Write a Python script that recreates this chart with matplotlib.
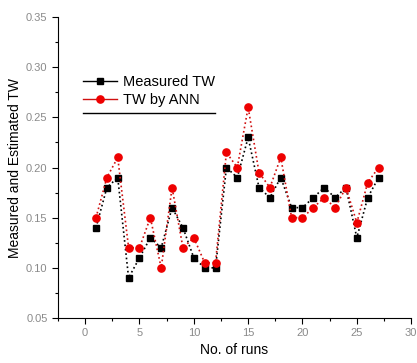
import numpy as np
import matplotlib.pyplot as plt
from matplotlib.lines import Line2D
from matplotlib.ticker import MultipleLocator

plt.rcParams['font.family'] = ['Liberation Sans', 'DejaVu Sans']

runs = list(range(1, 28))
measured_tw = [0.14, 0.18, 0.19, 0.09, 0.11, 0.13, 0.12, 0.16, 0.14, 0.11,
               0.10, 0.10, 0.20, 0.19, 0.23, 0.18, 0.17, 0.19, 0.16, 0.16,
               0.17, 0.18, 0.17, 0.18, 0.13, 0.17, 0.19]
ann_tw = [0.15, 0.19, 0.21, 0.12, 0.12, 0.15, 0.10, 0.18, 0.12, 0.13,
          0.105, 0.105, 0.215, 0.20, 0.26, 0.195, 0.18, 0.21, 0.15, 0.15,
          0.16, 0.17, 0.16, 0.18, 0.145, 0.185, 0.20]

fig = plt.figure(figsize=(4.17, 3.63), dpi=100)
ax = fig.add_axes([0.139, 0.124, 0.847, 0.829])

ax.plot(runs, measured_tw, color='black', ls=':', lw=1.2,
        marker='s', ms=4.5, mfc='black', mec='black')
ax.plot(runs, ann_tw, color='#d01010', ls=':', lw=1.2,
        marker='o', ms=5.2, mfc='#ee0000', mec='#ee0000')

ax.set_xlim(-2.5, 30)
ax.set_ylim(0.05, 0.35)
ax.xaxis.set_major_locator(MultipleLocator(5))
ax.xaxis.set_minor_locator(MultipleLocator(2.5))
ax.yaxis.set_major_locator(MultipleLocator(0.05))
ax.yaxis.set_minor_locator(MultipleLocator(0.025))
ax.yaxis.set_major_formatter(plt.FormatStrFormatter('%.2f'))

for side in ('top', 'right'):
    ax.spines[side].set_visible(False)
ax.tick_params(which='both', direction='out', width=0.8, labelsize=8,
               labelcolor='#8a8a8a')
ax.tick_params(which='major', length=4)
ax.tick_params(which='minor', length=2.5)

ax.set_xlabel('No. of runs', fontsize=10, labelpad=3)
ax.set_ylabel('Measured and Estimated TW', fontsize=10, labelpad=3)

handles = [
    Line2D([], [], color='black', lw=1, marker='s', ms=4.5),
    Line2D([], [], color='#d01010', lw=1, marker='o', ms=5.2, mfc='#ee0000', mec='#ee0000'),
]
ax.legend(handles, ['Measured TW', 'TW by ANN'], loc='upper left',
          bbox_to_anchor=(0.035, 0.85), frameon=False, fontsize=10.5,
          handlelength=2.3, handletextpad=0.4, labelspacing=0.25)
# rule under the legend
ax.add_line(Line2D([0.071, 0.445], [0.68, 0.68], transform=ax.transAxes,
                   color='black', lw=1))

fig.savefig('out.png', dpi=100)
